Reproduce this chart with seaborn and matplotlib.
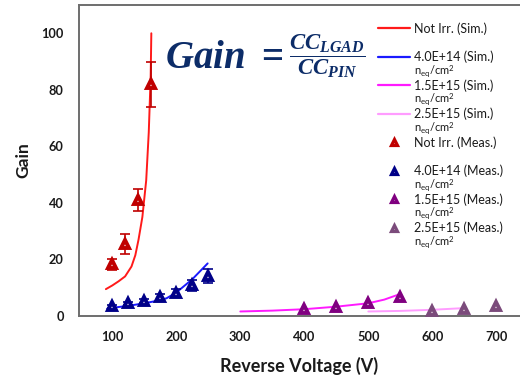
import matplotlib
matplotlib.use("Agg")
import matplotlib.pyplot as plt
import seaborn as sns
from matplotlib.lines import Line2D

# ---- simulated gain curves ----
sim_v_notirr = [90, 100, 110, 120, 130, 136, 141, 147, 153, 157, 160, 161]
sim_g_notirr = [9.5, 10.8, 12.3, 14.0, 17.5, 21.5, 27, 35, 48, 65, 85, 100]
sim_v_4e14 = [92, 100, 125, 150, 175, 185, 200, 225, 249]
sim_g_4e14 = [2.6, 2.9, 3.6, 4.5, 5.6, 6.3, 8.3, 13.0, 18.6]
sim_v_15e15 = [300, 350, 400, 450, 500, 525, 550]
sim_g_15e15 = [1.6, 1.9, 2.4, 3.3, 4.5, 5.8, 7.8]
sim_v_25e15 = [500, 550, 600, 650]
sim_g_25e15 = [1.6, 1.8, 2.2, 2.8]

# ---- measured gain ----
meas_v_notirr = [100, 120, 140, 160]
meas_g_notirr = [18.3, 25.5, 41.0, 82.0]
meas_e_notirr = [2.0, 3.5, 4.0, 8.0]
meas_v_4e14 = [100, 125, 150, 175, 200, 225, 250]
meas_g_4e14 = [3.5, 4.5, 5.3, 6.7, 8.2, 10.9, 14.1]
meas_e_4e14 = [0.5, 0.6, 0.8, 1.0, 1.5, 2.0, 2.5]
meas_v_15e15 = [400, 450, 500, 550]
meas_g_15e15 = [2.4, 3.2, 4.6, 6.7]
meas_v_25e15 = [600, 650, 700]
meas_g_25e15 = [1.8, 2.4, 3.5]

x_ticks = [100, 200, 300, 400, 500, 600, 700]
y_ticks = [0, 20, 40, 60, 80, 100]

sim_labels = ["Not Irr. (Sim.)", "4.0E+14 (Sim.)", "1.5E+15 (Sim.)", "2.5E+15 (Sim.)"]
meas_labels = ["Not Irr. (Meas.)", "4.0E+14 (Meas.)", "1.5E+15 (Meas.)", "2.5E+15 (Meas.)"]
fluence_unit = r"n$_{\mathregular{eq}}$/cm$^{\mathregular{2}}$"

sim_colors = ["#ff1a1a", "#1a1aff", "#ff1aff", "#ff9cff"]
meas_colors = ["#c00000", "#000088", "#800080", "#7b4b7b"]

sns.set_theme(style="white")
plt.rcParams['font.family'] = ['Lato', 'DejaVu Sans']
plt.rcParams['mathtext.fontset'] = 'custom'
plt.rcParams['mathtext.rm'] = 'Liberation Serif:bold'
plt.rcParams['mathtext.bf'] = 'Liberation Serif:bold'
plt.rcParams['mathtext.it'] = 'Liberation Serif:italic:bold'
plt.rcParams['mathtext.bfit'] = 'Liberation Serif:italic:bold'

W, H = 520, 376
fig = plt.figure(figsize=(W / 100, H / 100), dpi=100)
ax = fig.add_axes([79 / W, 1 - 316 / H, 1 - 79 / W, (316 - 5) / H])

sims = [(sim_v_notirr, sim_g_notirr), (sim_v_4e14, sim_g_4e14),
        (sim_v_15e15, sim_g_15e15), (sim_v_25e15, sim_g_25e15)]
for (v, g), c in zip(sims, sim_colors):
    sns.lineplot(x=v, y=g, ax=ax, color=c, lw=1.4, estimator=None, sort=False)

meas = [(meas_v_notirr, meas_g_notirr, meas_e_notirr),
        (meas_v_4e14, meas_g_4e14, meas_e_4e14),
        (meas_v_15e15, meas_g_15e15, None),
        (meas_v_25e15, meas_g_25e15, None)]
marker_kw = dict(marker="^", ms=5.6, mfc="#f4e8ee", mew=2.8)
for (v, g, e), c in zip(meas, meas_colors):
    ax.errorbar(v, g, yerr=e, fmt="none", ecolor=c, elinewidth=1.2,
                capsize=3.5, capthick=1.2, zorder=3)
    sns.lineplot(x=v, y=g, ax=ax, color=c, lw=0, estimator=None, sort=False,
                 mec=c, zorder=4, **marker_kw)

ax.set_xlim(48, 737)
ax.set_ylim(0, 110)
ax.set_xticks(x_ticks)
ax.set_yticks(y_ticks)
ax.tick_params(length=0, pad=11, labelsize=9.2, labelcolor="#1a1a1a")
for lab in ax.get_xticklabels() + ax.get_yticklabels():
    lab.set_fontweight("bold")
ax.set_xlabel("Reverse Voltage (V)", fontsize=13, fontweight="bold",
              color="#1a1a1a", labelpad=10)
ax.set_ylabel("Gain", fontsize=12.5, fontweight="bold", color="#1a1a1a",
              labelpad=7)
for side in ["left", "top", "bottom"]:
    ax.spines[side].set_color("#6e6e6e")
    ax.spines[side].set_linewidth(1.4)
ax.spines["right"].set_visible(False)

handles = [Line2D([], [], color=c, lw=1.6) for c in sim_colors]
handles += [Line2D([], [], color=c, lw=0, mec=c, **dict(marker_kw, ms=4.4, mew=2.3))
            for c in meas_colors]
leg = ax.legend(handles, sim_labels + meas_labels, loc="upper left",
                bbox_to_anchor=(378 / W, 1 - 22 / H), bbox_transform=fig.transFigure,
                frameon=False, fontsize=9.0, borderpad=0, borderaxespad=0,
                handlelength=2.55, handletextpad=0.3, labelspacing=1.28,
                labelcolor="#1a1a1a")

# formula annotation
navy = "#0c2c68"
fig.text(165 / W, 1 - 68 / H, r"$Gain\ =$", fontsize=28, color=navy,
         ha="left", va="baseline")
fig.text(327 / W, 1 - 63.5 / H, r"$\dfrac{CC_{LGAD}}{CC_{PIN}}$", fontsize=16.4,
         color=navy, ha="center", va="baseline")

# fluence unit line under the irradiated legend entries
fig.canvas.draw()
texts = leg.get_texts()
for i in [1, 2, 3, 5, 6, 7]:
    bb = texts[i].get_window_extent()
    fig.text(bb.x0 / W, (bb.y0 + 0.5) / H, fluence_unit, fontsize=8.0,
             color="#1a1a1a", ha="left", va="top")

fig.savefig("out.png", dpi=100)
